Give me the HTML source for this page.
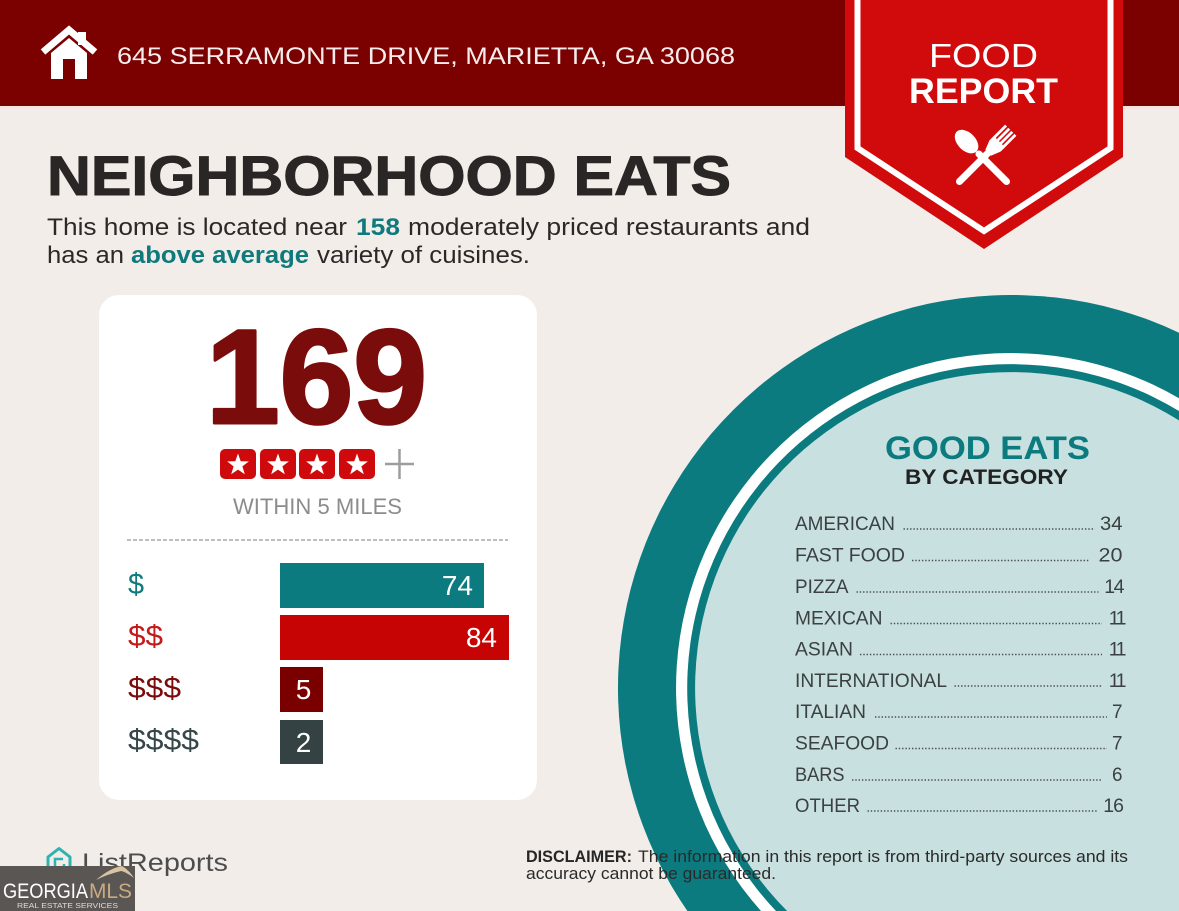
<!DOCTYPE html>
<html>
<head>
<meta charset="utf-8">
<style>
  html, body { margin: 0; padding: 0; background: #f3ede9; width: 1179px; height: 911px; overflow: hidden; }
  svg { display: block; }
  text { font-family: "Liberation Sans", Arial, sans-serif; }
</style>
</head>
<body>
<svg width="1179" height="911" viewBox="0 0 1179 911" xmlns="http://www.w3.org/2000/svg">
  <!-- background -->
  <rect x="0" y="0" width="1179" height="911" fill="#f3ede9"/>

  <!-- header bar -->
  <rect x="0" y="0" width="1179" height="106" fill="#7b0000"/>
  <rect x="0" y="106" width="1179" height="3" fill="#f4e4e1"/>

  <!-- house icon -->
  <polygon points="51,79 51,53 69,38 87,53 87,79" fill="#ffffff"/>
  <rect x="63" y="59" width="12" height="20" fill="#7b0000"/>
  <rect x="78" y="32" width="8" height="13" fill="#ffffff"/>
  <polyline points="43,52 69,30 95,52" fill="none" stroke="#ffffff" stroke-width="7" stroke-linejoin="miter"/>

  <text x="117" y="64" font-size="24" fill="#f6ecec" textLength="618" lengthAdjust="spacingAndGlyphs">645 SERRAMONTE DRIVE, MARIETTA, GA 30068</text>

  <!-- banner -->
  <polygon points="845,0 1123,0 1123,157 984,249 845,157" fill="#d10a0c"/>
  <polyline points="857.5,0 857.5,148 984,231 1110.5,148 1110.5,0" fill="none" stroke="#ffffff" stroke-width="6" stroke-linejoin="miter"/>
  <text x="983.5" y="67" font-size="33" fill="#ffffff" text-anchor="middle" textLength="109" lengthAdjust="spacingAndGlyphs">FOOD</text>
  <text x="983.5" y="103" font-size="35" font-weight="bold" fill="#ffffff" text-anchor="middle" textLength="149" lengthAdjust="spacingAndGlyphs">REPORT</text>

  <!-- fork -->
  <g transform="translate(957,184) rotate(45)" fill="#ffffff">
    <rect x="-3.5" y="-46" width="7" height="46" rx="3.5"/>
    <path d="M-4,-44 L-8,-54 L8,-54 L4,-44 Z"/>
    <rect x="-8" y="-60" width="16" height="7" rx="2"/>
    <rect x="-8" y="-76" width="2.8" height="18"/>
    <rect x="-3.5" y="-76" width="2.8" height="18"/>
    <rect x="0.8" y="-76" width="2.8" height="18"/>
    <rect x="5.2" y="-76" width="2.8" height="18"/>
  </g>
  <!-- spoon -->
  <g transform="translate(1009,184) rotate(-45)" fill="#ffffff">
    <rect x="-3.5" y="-46" width="7" height="46" rx="3.5"/>
    <ellipse cx="0" cy="-60" rx="9" ry="14"/>
  </g>

  <!-- title -->
  <text x="47" y="195" font-size="56" font-weight="bold" fill="#2b2626" stroke="#2b2626" stroke-width="1" textLength="684" lengthAdjust="spacingAndGlyphs">NEIGHBORHOOD EATS</text>

  <!-- subtitle -->
  <text x="47" y="235" font-size="24" fill="#2d2727" textLength="300" lengthAdjust="spacingAndGlyphs">This home is located near</text>
  <text x="356" y="235" font-size="24" font-weight="bold" fill="#0e7a7c" textLength="44" lengthAdjust="spacingAndGlyphs">158</text>
  <text x="408" y="235" font-size="24" fill="#2d2727" textLength="402" lengthAdjust="spacingAndGlyphs">moderately priced restaurants and</text>
  <text x="47" y="263" font-size="24" fill="#2d2727" textLength="77" lengthAdjust="spacingAndGlyphs">has an</text>
  <text x="131" y="263" font-size="24" font-weight="bold" fill="#0e7a7c" textLength="178" lengthAdjust="spacingAndGlyphs">above average</text>
  <text x="317" y="263" font-size="24" fill="#2d2727" textLength="213" lengthAdjust="spacingAndGlyphs">variety of cuisines.</text>

  <!-- big circle (clipped to page bounds as paths) -->
  <path d="M687.4,911 A393,393 0 0 1 1179,332.7 L1179,911 Z" fill="#0b7b7f"/>
  <path d="M761,911 A335,335 0 0 1 1179,398.2 L1179,911 Z" fill="#ffffff"/>
  <path d="M776,911 A324,324 0 0 1 1179,411 L1179,911 Z" fill="#0b7b7f"/>
  <path d="M787.1,911 A316,316 0 0 1 1179,420.4 L1179,911 Z" fill="#c8e0df"/>

  <!-- white card -->
  <rect x="99" y="295" width="438" height="505" rx="20" ry="20" fill="#ffffff"/>

  <text x="206" y="423" font-size="134" font-weight="bold" fill="#7a0c0c" stroke="#7a0c0c" stroke-width="3" stroke-linejoin="round" textLength="221" lengthAdjust="spacingAndGlyphs">169</text>

  <!-- stars -->
  <g>
    <rect x="220" y="449" width="36" height="30" rx="5" fill="#cf0a0c"/>
    <rect x="260" y="449" width="36" height="30" rx="5" fill="#cf0a0c"/>
    <rect x="299" y="449" width="36" height="30" rx="5" fill="#cf0a0c"/>
    <rect x="339" y="449" width="36" height="30" rx="5" fill="#cf0a0c"/>
    <g fill="#ffffff">
      <path transform="translate(238,465)" d="M0,-11.5 L2.7,-3.7 L10.9,-3.6 L4.4,1.4 L6.8,9.3 L0,4.6 L-6.8,9.3 L-4.4,1.4 L-10.9,-3.6 L-2.7,-3.7 Z"/>
      <path transform="translate(278,465)" d="M0,-11.5 L2.7,-3.7 L10.9,-3.6 L4.4,1.4 L6.8,9.3 L0,4.6 L-6.8,9.3 L-4.4,1.4 L-10.9,-3.6 L-2.7,-3.7 Z"/>
      <path transform="translate(317,465)" d="M0,-11.5 L2.7,-3.7 L10.9,-3.6 L4.4,1.4 L6.8,9.3 L0,4.6 L-6.8,9.3 L-4.4,1.4 L-10.9,-3.6 L-2.7,-3.7 Z"/>
      <path transform="translate(357,465)" d="M0,-11.5 L2.7,-3.7 L10.9,-3.6 L4.4,1.4 L6.8,9.3 L0,4.6 L-6.8,9.3 L-4.4,1.4 L-10.9,-3.6 L-2.7,-3.7 Z"/>
    </g>
  </g>
  <line x1="385" y1="464" x2="414" y2="464" stroke="#9d9d9d" stroke-width="2.5"/>
  <line x1="399.5" y1="449" x2="399.5" y2="479" stroke="#9d9d9d" stroke-width="2.5"/>

  <text x="233" y="514" font-size="22" fill="#8c8c8c" textLength="169" lengthAdjust="spacingAndGlyphs">WITHIN 5 MILES</text>

  <line x1="127" y1="540" x2="508" y2="540" stroke="#a9a9a9" stroke-width="1.5" stroke-dasharray="4 2"/>

  <!-- price labels -->
  <text x="128" y="594" font-size="30" fill="#0f7b7d" textLength="16" lengthAdjust="spacingAndGlyphs">$</text>
  <text x="128" y="646" font-size="30" fill="#c41a1a" textLength="35" lengthAdjust="spacingAndGlyphs">$$</text>
  <text x="128" y="698" font-size="30" fill="#7a0c0c" textLength="53" lengthAdjust="spacingAndGlyphs">$$$</text>
  <text x="128" y="750" font-size="30" fill="#36474a" textLength="71" lengthAdjust="spacingAndGlyphs">$$$$</text>

  <!-- bars -->
  <rect x="280" y="563" width="204" height="45" fill="#0b7b7f"/>
  <rect x="280" y="615" width="229" height="45" fill="#c70404"/>
  <rect x="280" y="667" width="43" height="45" fill="#7a0000"/>
  <rect x="280" y="720" width="43" height="44" fill="#354244"/>
  <text x="473" y="595" font-size="28" fill="#ffffff" text-anchor="end">74</text>
  <text x="497" y="647" font-size="28" fill="#ffffff" text-anchor="end">84</text>
  <text x="303.5" y="699" font-size="28" fill="#ffffff" text-anchor="middle">5</text>
  <text x="303.5" y="752" font-size="28" fill="#ffffff" text-anchor="middle">2</text>

  <!-- good eats -->
  <text x="885" y="459" font-size="32" font-weight="bold" fill="#0b7b7f" textLength="205" lengthAdjust="spacingAndGlyphs">GOOD EATS</text>
  <text x="905" y="484" font-size="21" font-weight="bold" fill="#222222" textLength="163" lengthAdjust="spacingAndGlyphs">BY CATEGORY</text>

  <g font-size="19.5" fill="#3b4142">
    <text x="795" y="530" textLength="100" lengthAdjust="spacingAndGlyphs">AMERICAN</text>
    <text x="1100" y="530" textLength="22.5" lengthAdjust="spacingAndGlyphs">34</text>
    <text x="795" y="561.5" textLength="110" lengthAdjust="spacingAndGlyphs">FAST FOOD</text>
    <text x="1098.5" y="561.5" textLength="24" lengthAdjust="spacingAndGlyphs">20</text>
    <text x="795" y="593" textLength="53.5" lengthAdjust="spacingAndGlyphs">PIZZA</text>
    <text x="1123" y="593" text-anchor="end" letter-spacing="-1.5">14</text>
    <text x="795" y="624.5" textLength="87.5" lengthAdjust="spacingAndGlyphs">MEXICAN</text>
    <text x="1124" y="624.5" text-anchor="end" letter-spacing="-2.5">11</text>
    <text x="795" y="655.5" textLength="58" lengthAdjust="spacingAndGlyphs">ASIAN</text>
    <text x="1124" y="655.5" text-anchor="end" letter-spacing="-2.5">11</text>
    <text x="795" y="687" textLength="152" lengthAdjust="spacingAndGlyphs">INTERNATIONAL</text>
    <text x="1124" y="687" text-anchor="end" letter-spacing="-2.5">11</text>
    <text x="795" y="718" textLength="71" lengthAdjust="spacingAndGlyphs">ITALIAN</text>
    <text x="1112" y="718" textLength="10.5" lengthAdjust="spacingAndGlyphs">7</text>
    <text x="795" y="749.5" textLength="94" lengthAdjust="spacingAndGlyphs">SEAFOOD</text>
    <text x="1112" y="749.5" textLength="10.5" lengthAdjust="spacingAndGlyphs">7</text>
    <text x="795" y="781" textLength="49.5" lengthAdjust="spacingAndGlyphs">BARS</text>
    <text x="1112" y="781" textLength="10.5" lengthAdjust="spacingAndGlyphs">6</text>
    <text x="795" y="812" textLength="65" lengthAdjust="spacingAndGlyphs">OTHER</text>
    <text x="1123" y="812" text-anchor="end" letter-spacing="-1">16</text>
  </g>
  <g stroke="#4a5051" stroke-width="1.6" stroke-dasharray="1.4 1.9">
    <line x1="903.5" y1="529" x2="1095" y2="529"/>
    <line x1="912" y1="560.5" x2="1090" y2="560.5"/>
    <line x1="856.5" y1="592" x2="1098.5" y2="592"/>
    <line x1="890.5" y1="623.5" x2="1102" y2="623.5"/>
    <line x1="860" y1="654.5" x2="1102" y2="654.5"/>
    <line x1="954.5" y1="686" x2="1102" y2="686"/>
    <line x1="875" y1="717" x2="1107" y2="717"/>
    <line x1="895.5" y1="748.5" x2="1107" y2="748.5"/>
    <line x1="852" y1="780" x2="1102" y2="780"/>
    <line x1="867.5" y1="811" x2="1098" y2="811"/>
  </g>

  <!-- disclaimer -->
  <text x="526" y="862" font-size="17" font-weight="bold" fill="#262626" textLength="106" lengthAdjust="spacingAndGlyphs">DISCLAIMER:</text>
  <text x="638" y="862" font-size="17" fill="#2a2a2a" textLength="490" lengthAdjust="spacingAndGlyphs">The information in this report is from third-party sources and its</text>
  <text x="526" y="879" font-size="17" fill="#2a2a2a" textLength="250" lengthAdjust="spacingAndGlyphs">accuracy cannot be guaranteed.</text>

  <!-- ListReports logo -->
  <path d="M48,870 L48,857 L59,848.5 L70,857 L70,870" fill="none" stroke="#2fb3b0" stroke-width="3" stroke-linejoin="round"/>
  <path d="M64,864 L64,868 L55,868 L55,859 L63,859" fill="none" stroke="#2fb3b0" stroke-width="2.5"/>
  <text x="82" y="871" font-size="25" fill="#4d4d4d" textLength="146" lengthAdjust="spacingAndGlyphs">ListReports</text>

  <!-- Georgia MLS badge -->
  <rect x="0" y="866" width="135" height="45" fill="#5a5654"/>
  <path d="M96,880 Q110,868 122,866 Q129,870 134,878 Q126,872 121,871 Q108,874 96,880 Z" fill="#d9c3a0"/>
  <text x="3" y="898" font-size="21" fill="#ffffff" textLength="85" lengthAdjust="spacingAndGlyphs">GEORGIA</text>
  <text x="89" y="898" font-size="21" fill="#c9ab82" textLength="43" lengthAdjust="spacingAndGlyphs">MLS</text>
  <text x="17" y="908" font-size="7" fill="#dedbd8" textLength="101" lengthAdjust="spacingAndGlyphs">REAL ESTATE SERVICES</text>
</svg>
</body>
</html>
